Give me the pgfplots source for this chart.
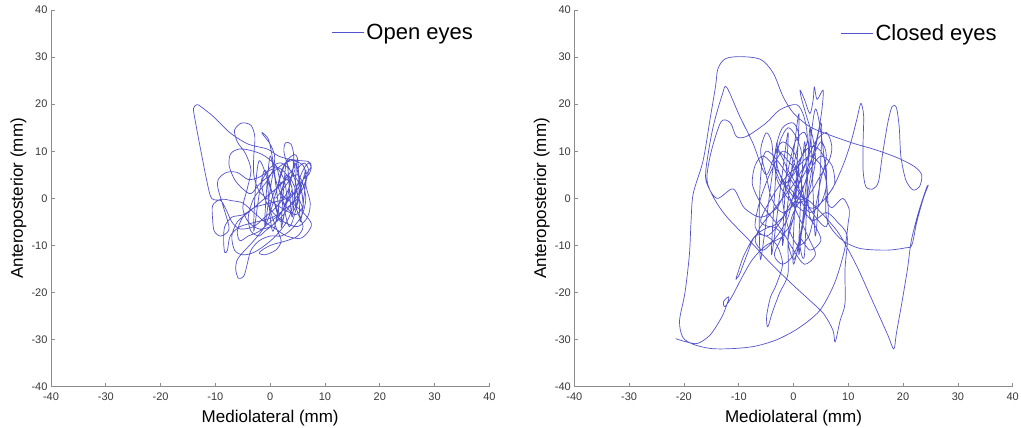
\documentclass[border=0pt]{standalone}
\usepackage{fontspec}
\setmainfont{Liberation Sans}
\usepackage{pgfplots}
\pgfplotsset{compat=1.18}
\definecolor{traj}{RGB}{40,40,190}
\pgfplotsset{
  cop/.style={
    scale only axis, width=438.4pt, height=376.7pt,
    xmin=-40,xmax=40,ymin=-40,ymax=40,
    xtick={-40,-30,...,40}, ytick={-40,-30,...,40},
    axis x line*=bottom, axis y line*=left,
    axis line style={draw=black!45, line width=0.8pt, -},
    tick style={draw=black!45, line width=0.8pt},
    tick align=inside, major tick length=4pt,
    ticklabel style={font=\fontsize{11}{12}\selectfont, text=black!78},
    /pgf/number format/assume math mode=true,
    xticklabel style={yshift=-3pt},
    xlabel={Mediolateral (mm)}, ylabel={Anteroposterior (mm)},
    label style={font=\fontsize{17}{20}\selectfont},
    xlabel style={at={(axis description cs:0.5,0)}, anchor=north, yshift=-20pt},
    ylabel style={at={(axis description cs:0,0.5)}, anchor=center, yshift=32.5pt},
    legend style={draw=none, fill=none, font=\fontsize{22}{26}\selectfont, inner sep=0pt, anchor=west},
    legend image code/.code={\draw[#1] (0pt,0pt) -- (32pt,0pt);},
    legend cell align=left,
  },
  trajs/.style={color=traj, line width=0.7pt, opacity=0.8, smooth, tension=0.5, line join=round},
}
\begin{document}
\begin{tikzpicture}
\useasboundingbox (0,0) rectangle (1021pt,428pt);
\begin{axis}[cop, at={(51pt,41.3pt)}, anchor=south west, legend style={at={(axis cs:11.2,35.2)}}]
\addplot[trajs] coordinates {
(1,0)(3,3)(4.5,6)(4,8.3)(2.5,7)(1.5,3)(2.5,-1)(4.5,-3.5)(6,-1.5)(5.5,2.5)(4,5.5)(2,7.5)(0,6.5)(-1.5,3.5)(-1,0)(0.5,-3)(2.5,-5)(5,-6)(6.8,-4)(7.3,-1)(6.5,3)(7,6)(6.2,7.5)(5,6)(5.5,2)(4,-1)(2,-4)(0,-6)(-2,-6.5)(-4,-5)(-5,-2)(-4.2,2)(-3.5,6)(-4.5,9.5)(-6,12)(-6.5,14.5)(-5.2,16)(-3.5,15.5)(-2.8,13)(-3,9)(-3,5)(-2,1.5)(0,-0.5)(2,-2)(4,-3)(5,0)(4.5,4)(3.2,7)(2.5,10)(2.8,11.8)(3.8,11.5)(4.3,9)(4,5)(3,1)(1,-2)(-1,-4)(-3,-6)(-5.5,-6.5)(-7,-5)(-8,-2.5)(-9,-0.5)(-10.7,0)(-11.6,3.9)(-12.8,11)(-13.7,16.6)(-14,19.1)(-13.4,19.9)(-12.8,19.6)(-10.4,17.4)(-7.3,13.9)(-4,11.5)(-0.6,10.5)(1.5,9)(3.5,8.3)(5.5,8)(7,7.8)(7.5,6.8)(6.5,5)(5,2)(3,-1)(1,-5)(-1,-7)(-2,-8)(-3.5,-7)(-4,-4)(-3,0)(-1,3)(0.5,6)(0.8,9)(0,11.5)(-1.3,13.5)(-1.5,14)(-0.3,12.5)(0.5,8)(1,4)(2,1)(4,-1)(6,-3)(7.5,-5.3)(7,-7)(5.5,-8.5)(3,-8)(1,-6.5)(-1,-5)(-3,-3)(-5,-1)(-7,-0.5)(-9,-0.2)(-10.5,-1.5)(-10.5,-4.5)(-10.2,-7)(-9,-8)(-7.5,-6.5)(-8.5,-2)(-9.5,2)(-9.5,4)(-8,5.5)(-6,5.5)(-4,4)(-2,4.5)(0,6)(1.5,6.5)(3,5)(4,2)(4,-2)(3,-5)(1,-8)(-1,-10)(-3,-11.5)(-5,-12)(-6.5,-11)(-7,-8)(-6,-5)(-4,-3)(-2,-1)(0,1)(2,3)(4,6)(5,8)(4.5,9.3)(3,8)(2,5)(1,1)(0,-3)(-1,-6)(-3,-9)(-5,-11.5)(-6,-13)(-6.3,-15)(-5.8,-17)(-4.8,-16.5)(-4.2,-14)(-3.5,-11)(-2,-9)(0,-8)(2,-8)(3.5,-7)(5,-5)(6,-3)(6.5,0)(6,3)(5,5)(3,4)(1,2)(-1,0)(-3,-2)(-5,-3.5)(-7,-4)(-8.3,-6)(-8.5,-9)(-8.3,-11.5)(-7.8,-11)(-7.3,-8)(-5.5,-6)(-2.5,-5)(0.5,-4)(3,-2)(5,0)(6.5,4)(6,7)(4,8)(2,7)(0,5)(-2,3)(-3.5,1)(-5,2)(-6.5,4)(-7.5,7)(-7.2,9.5)(-5.5,10.5)(-3,10)(-1,9)(1,7)(2.5,4)(3,0)(2,-3)(0,-5)(-2,-7)(-4,-8)(-5.5,-9)(-6,-7)(-5,-4)(-3,-2)(0,-1)(3,0)(5,2)(6,4)(7,5)(7.5,6.5)(7,7.5)(6,6)(5,3)(4.5,0)(5,-3)(6,-6)(5,-8)(3,-9)(0,-10)(-2,-11.5)(-1,-12)(1,-11)(2,-9)(1,-6)(0,-2)(1,2)(3,4)(4,2)(3,-1)
(2,-6)(3,8)(4,-4)(5,8.5)(5.5,-5)(6.5,6)(3.5,-6)(1,7)(-1,-6)(0,9)(1.5,-3)(-2,8)(-3,-7)(-1,6)(2,-5)(4.5,7.5)(6,-2)(3,5)(0.5,-7)(-0.5,4)
};
\addlegendentry{Open eyes}
\end{axis}
\begin{axis}[cop, at={(574.3pt,41.3pt)}, anchor=south west, legend style={at={(axis cs:8.6,35.1)}}]
\addplot[trajs] coordinates {
(0,0)(1.5,5)(2.8,10)(2,14)(0.3,12)(-1,6)(-2,0)(-1,-6)(0.8,-10)(2.8,-8)(4,-2)(5,4)(6,9)(5,12)(3.2,8)(1,3)(-1,-2)(-3,-6)(-5,-8)(-7,-6)(-6,0)(-4,6)(-2,10)(0,8)(1,2)(0,-4)(-1,-9)(0,-13)(1,-10)(2,-4)(3,2)(4,8)(3.5,13)(2.5,17)(1.5,21)(1.2,23)(2,21)(3,18)(3.6,21)(3.8,23.7)(4.3,21)(5.4,23)(5.2,19)(4.5,14)(3,7)(1,0)(-2,-3)
(-4,0)(-5,5)(-6,10)(-5,13.9)(-4,12)(-3.5,7)(-2,3)(0,5)(1.5,9)(0.5,13)(-1,15)(-2.5,12)(-3,7)(-1,1)(1,-4)(3,-9)(4,-12)(2,-14)(0,-11)(-2,-7)(-4,-4)(-6,-1)(-7.5,3)(-7,7)(-5.5,9)(-3,6)(-1,2)(1,-1)(3,1)(5,5)(6.5,8)(7,11)(6,14)(4,12)(2,7)(0,3)(-2,0)(-4,-3)(-6,-6)(-7,-9)(-5.5,-11)(-3,-8)(-1,-4)(0,1)(1,6)(0,10)(-2,12)(-3.5,9)(-3,4)(-1,0)(2,-3)(4,-6)(5,-9)(3,-11)(1,-8)
(2,-12)(3,15)(4,-8)(5,16)(0,-14)(1,18)(-2,-10)(-1,14)(-4,-12)(-3,12)(-6,-13)(-5,10)(6,-6)(4,19)(1,-12)(2,12)
(3,-4)(6,-3)(8,-5)(9.8,-8)(9.4,-15)(9.4,-22.3)(8.5,-26)(7.6,-30.5)(7.2,-28)(5.5,-24.5)(3,-21.7)(0,-18.5)(-4,-14)(-8,-9)(-12.2,-3.9)(-14.5,0)(-15.8,4)(-15,10)(-13.2,16.3)(-11.5,16)(-10.4,13.1)(-8.5,13.2)(-5,16)(-2.5,18.8)(0.6,19.9)(2,17)(2.5,12)(1,7)
(0,-4)(-2,-8)(-3.5,-12)(-2,-14)(0,-12)(1.5,-7)(2,-1)(1,5)(-1,8)(-3,11)(-2,15)(0,16)(1,13)(0,7)(-1,3)(1,0)(3,-3)(5,-1)(6,3)(5,7)(3,9)(1,7)(-1,5)(-3,2)(-5,-2)(-6,-5)(-4,-6)(-2,-4)(0,-1)(2,3)(3,6)(5,9)(7,7)(7.5,3)(6,0)(7,-2)
(9,0)(10.2,-2.5)(10,-5)(9.3,-11)(7.5,-18)(4.8,-23.8)(1,-27.5)(-3,-30)(-7,-31.4)(-11,-31.9)(-15,-31.9)(-18.3,-31)(-20.2,-29.5)(-20.8,-26)(-19.8,-20)(-19,-12)(-18.7,-5)(-18.3,1)(-16.5,8)(-15.2,17)(-14.2,24)(-13.8,27.5)(-12.5,29.6)(-9.8,30.1)(-6,29.5)(-3.7,26.6)(-1.9,21.6)(0,18.1)(3,15.2)(6.5,13.5)(10.9,11.7)(15,10.3)(19,8.6)(22,6.8)(23.4,5)(23,2.5)(21.8,1.8)(20.5,3.9)(19.6,8.9)(19.3,15)(18.8,19.2)(18,19.5)(17.2,16)(16.2,9)(15.5,3.5)(14.5,2)(13.2,2.5)(12.7,6)(12.7,12)(12.8,17.5)(12.3,20.2)(11.6,17)(10.5,12)(9.2,7.5)(7.3,2.5)(5,-1)(3,-2)
(1,2)(-1,6)(-3,10)(-5,5)(-7.4,11.7)(-9.8,17.4)(-12.2,23.6)(-13,22)(-14.5,16)(-15.5,10)(-16,4)(-14,0)(-11,2)(-9,-2)(-6,-4)(-3,-2)(-1,3)(1,8)(3,11)(5,10)(6,6)(6,-4)
(8.5,-8.5)(12,-10.6)(17,-11)(20.5,-10.5)(21.6,-9.9)(22.5,-5)(23.7,0)(24.6,2.8)(24.2,2)(22.8,-3)(21.5,-9)(20.8,-15)(19.8,-22)(18.8,-28.5)(18.3,-32)(17.2,-29)(14.5,-22)(11.8,-15)(9.8,-10.5)(8,-7)(5,-3)(2,0)(0,-3)(-1,-8)
(-1,-16)(-2.5,-20)(-3.8,-24)(-4.7,-27.3)(-4.9,-25)(-4.2,-21)(-3.2,-18.5)(-2,-14)(-3,-10)(-5,-8)(-7,-8)(-9,-12)(-10.2,-16)(-10.5,-17.2)(-9.8,-16)(-8.5,-12)(-7,-8)(-4,-6)(-2,-8)(-5,-10)(-7.5,-13)(-9.5,-17)(-11.2,-20.8)(-12.5,-23)(-12.8,-22)(-12,-21)(-11.8,-21.3)(-13,-25)(-15.2,-29)(-17.5,-30.8)(-19.5,-30.5)(-21.5,-29.8)
};
\addlegendentry{Closed eyes}
\end{axis}
\end{tikzpicture}
\end{document}
